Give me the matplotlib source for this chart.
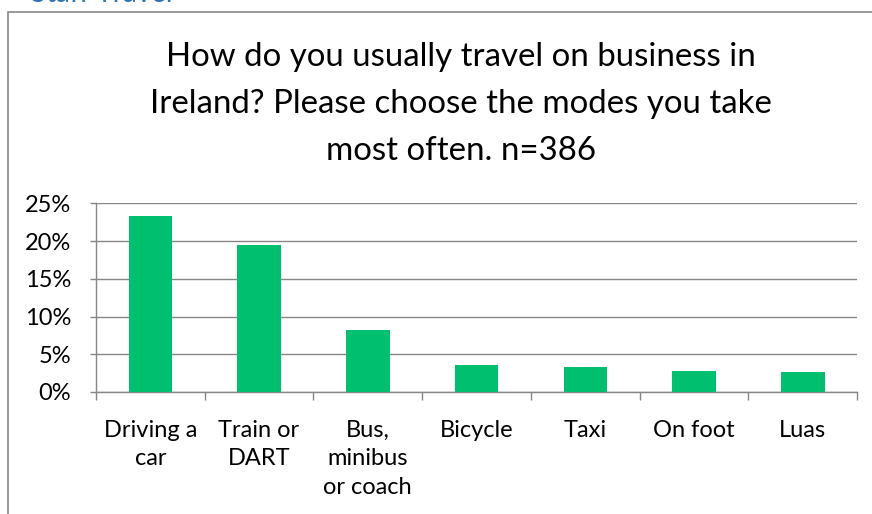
import matplotlib.pyplot as plt
from matplotlib.patches import Rectangle
from matplotlib.ticker import FuncFormatter, FixedLocator
import numpy as np

categories = ['Driving a\ncar', 'Train or\nDART', 'Bus,\nminibus\nor coach',
              'Bicycle', 'Taxi', 'On foot', 'Luas']
shares = [23.3, 19.5, 8.2, 3.6, 3.3, 2.8, 2.6]

title = ('How do you usually travel on business in\n'
         'Ireland? Please choose the modes you take\n'
         'most often. n=386')

bar_color = '#00BF6F'
grid_color = '#868686'

plt.rcParams['font.family'] = ['Lato', 'DejaVu Sans']

fig = plt.figure(figsize=(8.72, 5.14), dpi=100)
ax = fig.add_axes([0.110, 0.2374, 0.873, 0.3671])

x = np.arange(len(categories))
ax.bar(x, shares, width=0.4, color=bar_color, zorder=3)

ax.set_xlim(-0.5, len(categories) - 0.5)
ax.set_ylim(0, 25)
ax.set_yticks([0, 5, 10, 15, 20, 25])
ax.yaxis.set_major_formatter(FuncFormatter(lambda v, p: f'{v:.0f}%'))
ax.grid(axis='y', color=grid_color, linewidth=1, zorder=0)

# category labels centred, tick marks on the boundaries
ax.set_xticks(x)
ax.set_xticklabels(categories, fontsize=17, linespacing=1.45, va='top')
ax.tick_params(axis='x', length=0, pad=20)
ax.xaxis.set_minor_locator(FixedLocator(np.arange(len(categories) + 1) - 0.5))
ax.tick_params(axis='x', which='minor', length=6, color=grid_color, width=1)
ax.tick_params(axis='y', length=4, color=grid_color, width=1, labelsize=17, pad=14)

for side in ['top', 'right']:
    ax.spines[side].set_visible(False)
for side in ['left', 'bottom']:
    ax.spines[side].set_color(grid_color)
    ax.spines[side].set_linewidth(1)

fig.text(0.529, 0.918, title, ha='center', va='top', fontsize=23.8,
         linespacing=1.71)

# chart frame and the clipped section header above it
fig.patches.append(Rectangle((8 / 872, -0.05), 2.0, 1 - 12 / 514 + 0.05,
                             transform=fig.transFigure, fill=False,
                             edgecolor=grid_color, linewidth=1.2))
fig.text(0.035, 0.987, 'Staff Travel', color='#2E74B5', fontsize=20,
         ha='left', va='bottom')

fig.savefig('out.png', dpi=100)
